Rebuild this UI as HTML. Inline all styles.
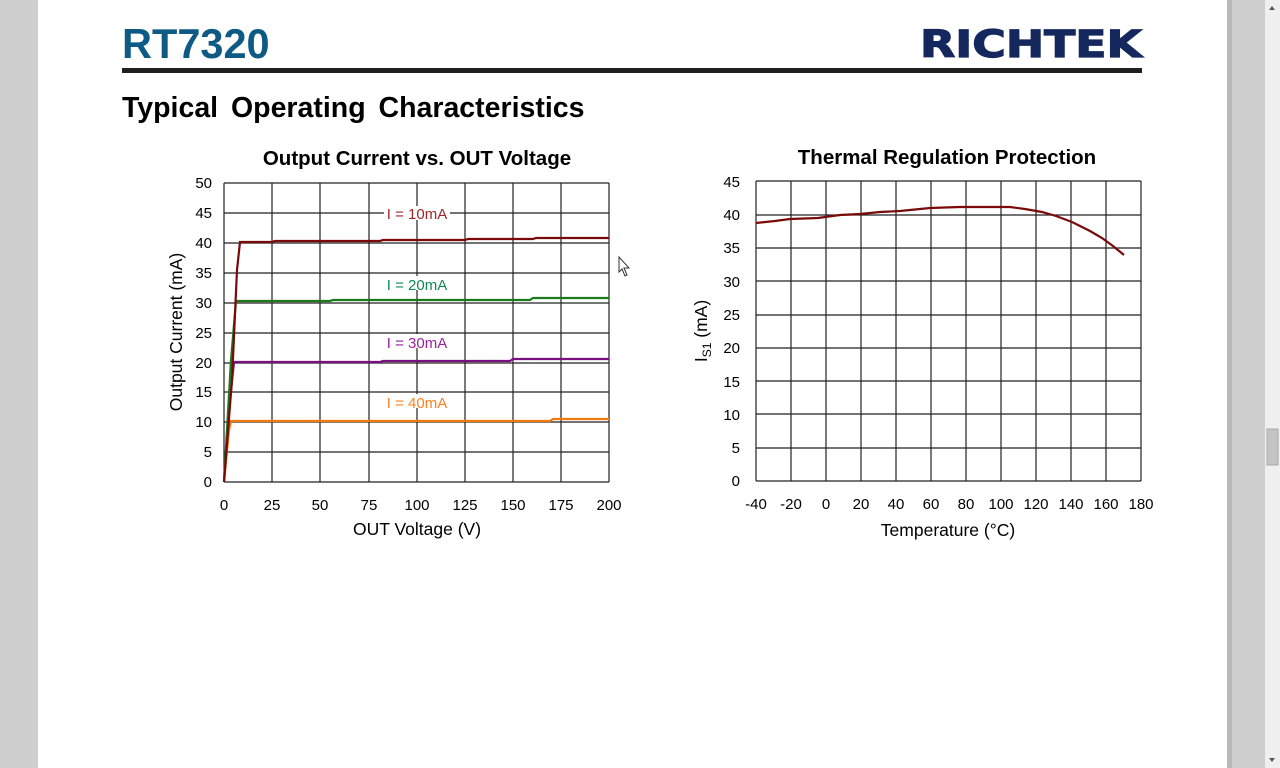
<!DOCTYPE html>
<html><head><meta charset="utf-8"><style>
html,body{margin:0;padding:0;width:1280px;height:768px;overflow:hidden;background:#d0d0d0;}
svg{display:block;font-family:"Liberation Sans",Arial,sans-serif;}
</style></head><body>
<svg width="1280" height="768" viewBox="0 0 1280 768" xmlns="http://www.w3.org/2000/svg">
<rect x="0" y="0" width="1280" height="768" fill="#cfcfcf"/>
<rect x="38" y="0" width="1189" height="768" fill="#ffffff"/>
<rect x="1227" y="0" width="5" height="768" fill="#b8b8b8"/>
<rect x="1265" y="0" width="15" height="768" fill="#efefef"/>
<rect x="1267" y="429" width="11" height="36" fill="#c4c4c4" stroke="#a8a8a8"/>
<polygon points="1269,10 1275,10 1272,6" fill="#555"/>
<polygon points="1269,758 1275,758 1272,762" fill="#555"/>
<text x="122" y="58" font-size="41.5" font-weight="bold" fill="#0d5a85">RT7320</text>
<text x="920" y="57" font-size="37" font-weight="900" fill="#14285e" textLength="222" lengthAdjust="spacingAndGlyphs" stroke="#14285e" stroke-width="1.2" style="font-family:'DejaVu Sans','Liberation Sans',sans-serif">RICHTEK</text>
<rect x="122" y="68" width="1020" height="5" fill="#1f1f1f"/>
<text x="122" y="117" font-size="28.5" font-weight="bold" fill="#000" word-spacing="5">Typical Operating Characteristics</text>

<!-- Left chart -->
<text x="417" y="165" font-size="20.5" font-weight="bold" text-anchor="middle">Output Current vs. OUT Voltage</text>
<g stroke="#222" stroke-width="1.2">
<line x1="224" y1="183" x2="609" y2="183"/><line x1="224" y1="213" x2="609" y2="213"/>
<line x1="224" y1="243" x2="609" y2="243"/><line x1="224" y1="273" x2="609" y2="273"/>
<line x1="224" y1="303" x2="609" y2="303"/><line x1="224" y1="333" x2="609" y2="333"/>
<line x1="224" y1="363" x2="609" y2="363"/><line x1="224" y1="392" x2="609" y2="392"/>
<line x1="224" y1="422" x2="609" y2="422"/><line x1="224" y1="452" x2="609" y2="452"/>
<line x1="224" y1="482" x2="609" y2="482"/>
<line x1="224" y1="183" x2="224" y2="482"/><line x1="272" y1="183" x2="272" y2="482"/>
<line x1="320" y1="183" x2="320" y2="482"/><line x1="369" y1="183" x2="369" y2="482"/>
<line x1="417" y1="183" x2="417" y2="482"/><line x1="465" y1="183" x2="465" y2="482"/>
<line x1="513" y1="183" x2="513" y2="482"/><line x1="561" y1="183" x2="561" y2="482"/>
<line x1="609" y1="183" x2="609" y2="482"/>
</g>
<g font-size="15" text-anchor="end">
<text x="212" y="188">50</text><text x="212" y="218">45</text><text x="212" y="248">40</text>
<text x="212" y="278">35</text><text x="212" y="308">30</text><text x="212" y="338">25</text>
<text x="212" y="368">20</text><text x="212" y="397">15</text><text x="212" y="427">10</text>
<text x="212" y="457">5</text><text x="212" y="487">0</text>
</g>
<g font-size="15" text-anchor="middle">
<text x="224" y="510">0</text><text x="272" y="510">25</text><text x="320" y="510">50</text>
<text x="369" y="510">75</text><text x="417" y="510">100</text><text x="465" y="510">125</text>
<text x="513" y="510">150</text><text x="561" y="510">175</text><text x="609" y="510">200</text>
</g>
<text x="417" y="535" font-size="17.5" text-anchor="middle">OUT Voltage (V)</text>
<text transform="translate(182,332) rotate(-90)" font-size="17.5" text-anchor="middle">Output Current (mA)</text>
<rect x="384" y="206" width="66" height="14" fill="#fff"/>
<text x="417" y="219" font-size="15" text-anchor="middle" fill="#a0262a">I = 10mA</text>
<rect x="384" y="276" width="66" height="14" fill="#fff"/>
<text x="417" y="290" font-size="15" text-anchor="middle" fill="#108a50">I = 20mA</text>
<rect x="384" y="334" width="66" height="14" fill="#fff"/>
<text x="417" y="348" font-size="15" text-anchor="middle" fill="#9a20a0">I = 30mA</text>
<rect x="384" y="394" width="66" height="14" fill="#fff"/>
<text x="417" y="408" font-size="15" text-anchor="middle" fill="#ff8020">I = 40mA</text>
<g fill="none" stroke-width="2.2">
<polyline stroke="#f07a10" points="224,482 229,430 231,421 300,421 550,421 553,419 609,419"/>
<polyline stroke="#7a1080" points="224,482 230,400 234,362 380,362 383,361 510,361 513,359 609,359"/>
<polyline stroke="#1a7a1a" points="224,482 231,360 236,301 330,301 333,300 460,300 530,300 533,298 609,298"/>
<polyline stroke="#7a0a0a" points="224,482 232,380 237,270 240,242 272,242 275,241 380,241 383,240 465,240 468,239 533,239 536,238 609,238"/>
</g>
<polygon points="619,257 619,272 622,269 625,276 627,275 624,268 629,268" fill="#fff" stroke="#333" stroke-width="1"/>

<!-- Right chart -->
<text x="947" y="164" font-size="20.5" font-weight="bold" text-anchor="middle">Thermal Regulation Protection</text>
<g stroke="#222" stroke-width="1.2">
<line x1="756" y1="181" x2="1141" y2="181"/><line x1="756" y1="215" x2="1141" y2="215"/>
<line x1="756" y1="248" x2="1141" y2="248"/><line x1="756" y1="281" x2="1141" y2="281"/>
<line x1="756" y1="315" x2="1141" y2="315"/><line x1="756" y1="348" x2="1141" y2="348"/>
<line x1="756" y1="381" x2="1141" y2="381"/><line x1="756" y1="414" x2="1141" y2="414"/>
<line x1="756" y1="448" x2="1141" y2="448"/><line x1="756" y1="481" x2="1141" y2="481"/>
<line x1="756" y1="181" x2="756" y2="481"/><line x1="791" y1="181" x2="791" y2="481"/>
<line x1="826" y1="181" x2="826" y2="481"/><line x1="861" y1="181" x2="861" y2="481"/>
<line x1="896" y1="181" x2="896" y2="481"/><line x1="931" y1="181" x2="931" y2="481"/>
<line x1="966" y1="181" x2="966" y2="481"/><line x1="1001" y1="181" x2="1001" y2="481"/>
<line x1="1036" y1="181" x2="1036" y2="481"/><line x1="1071" y1="181" x2="1071" y2="481"/>
<line x1="1106" y1="181" x2="1106" y2="481"/><line x1="1141" y1="181" x2="1141" y2="481"/>
</g>
<g font-size="15" text-anchor="end">
<text x="740" y="187">45</text><text x="740" y="220">40</text><text x="740" y="253">35</text>
<text x="740" y="287">30</text><text x="740" y="320">25</text><text x="740" y="353">20</text>
<text x="740" y="387">15</text><text x="740" y="420">10</text><text x="740" y="453">5</text>
<text x="740" y="486">0</text>
</g>
<g font-size="15" text-anchor="middle">
<text x="756" y="509">-40</text><text x="791" y="509">-20</text><text x="826" y="509">0</text>
<text x="861" y="509">20</text><text x="896" y="509">40</text><text x="931" y="509">60</text>
<text x="966" y="509">80</text><text x="1001" y="509">100</text><text x="1036" y="509">120</text>
<text x="1071" y="509">140</text><text x="1106" y="509">160</text><text x="1141" y="509">180</text>
</g>
<text x="948" y="536" font-size="17.5" text-anchor="middle">Temperature (°C)</text>
<text transform="translate(707,331) rotate(-90)" font-size="17.5" text-anchor="middle">I<tspan font-size="12" dy="4">S1</tspan><tspan dy="-4"> (mA)</tspan></text>
<polyline fill="none" stroke="#7a0a0a" stroke-width="2.2" points="756,223 775,221 790,219 818,218 840,215 860,214 880,212 900,211 930,208 960,207 1010,207 1025,209 1042,212 1056,216 1072,222 1090,231 1102,238 1113,246 1124,255"/>
</svg>
</body></html>
